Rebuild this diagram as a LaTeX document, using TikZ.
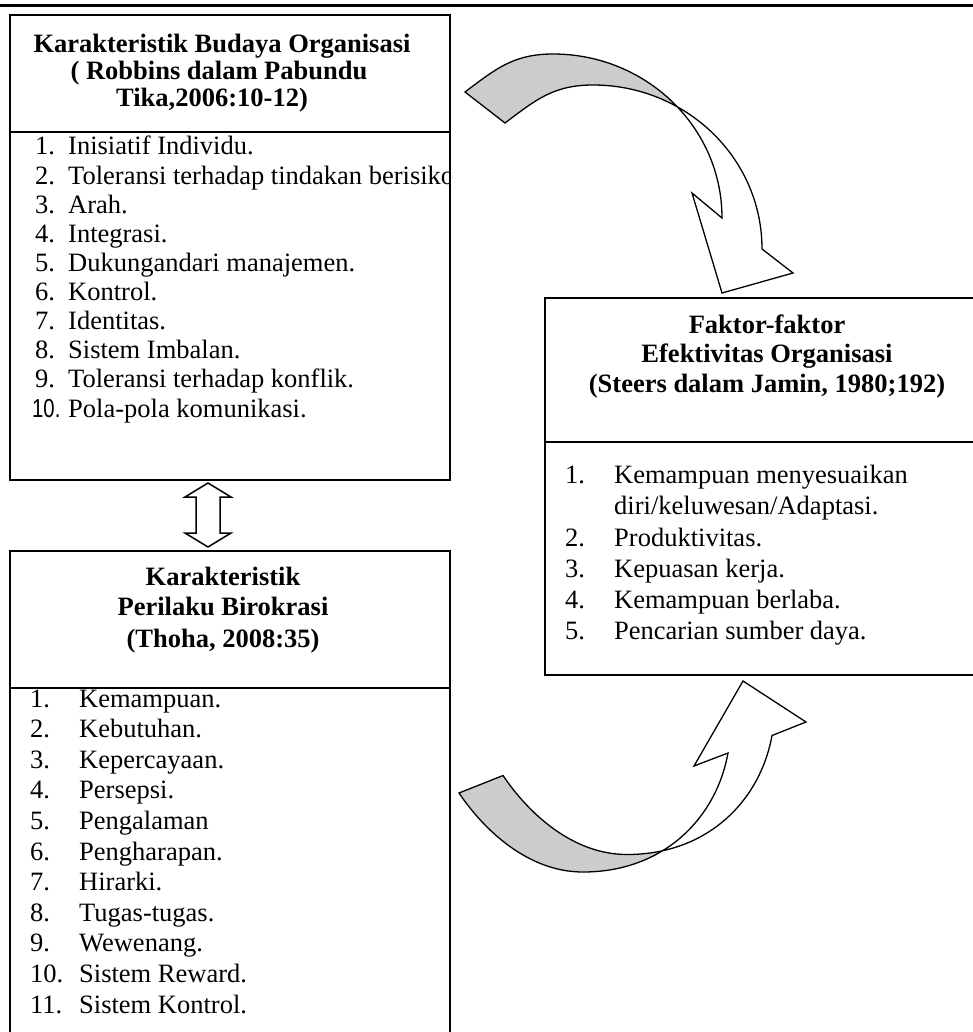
\documentclass[tikz,border=0pt]{standalone}
\usepackage{fontspec}
\setmainfont{Liberation Serif}
\newfontfamily\numfont{Liberation Sans}
\usetikzlibrary{intersections}

\newcommand\txtsize{\fontsize{26.5}{29}\selectfont}

\begin{document}
\begin{tikzpicture}[x = 1pt, y = -1pt,
	frame/.style = {line width = 1.5pt},
	title/.style = {anchor = base, inner sep = 0pt, font = \txtsize\bfseries},
	item/.style = {anchor = base west, inner sep = 0pt, font = \txtsize},
	band/.style = {line width = 1.3pt, line join = miter}]

	% Definitions
	
	\def\W{973}		% Picture width
	\def\H{1032}	% Picture height
	
	\clip (0, 0) rectangle (\W, \H);
	\coordinate (bottom) at (0, \H);
	
	% Rule at the top
	
	\draw [line width = 3pt] (0, 6) -- (\W, 6);
	
	% Budaya Organisasi
	
	\draw [frame] (10, 15) rectangle (450, 480);
	\draw [frame] (10, 132) -- (450, 132);
	
	\node [title] (budaya1) at (222, 53) {Karakteristik Budaya Organisasi};
	\node [title] (budaya2) at (219, 80) {( Robbins dalam Pabundu};
	\node [title] (budaya3) at (212, 107) {Tika,2006:10-12)};
	
	\begin{scope}
		\clip (10, 132) rectangle (450, 480);
		\foreach \txt [count = \n] in {Inisiatif Individu., Toleransi terhadap tindakan berisiko, Arah., Integrasi., Dukungandari manajemen., Kontrol., Identitas., Sistem Imbalan., Toleransi terhadap konflik.}
		{
			\node [item] (budayaNo\n) at (35, {155 + 29.1 * (\n - 1)}) {\n.};
			\node [item] (budayaItem\n) at (68, {155 + 29.1 * (\n - 1)}) {\txt};
		}
		\node [item, font = \fontsize{26}{29}\selectfont\numfont] (budayaNo10) at (32, 417) {\scalebox{0.78}[1]{10.}};
		\node [item] (budayaItem10) at (68, 417) {Pola-pola komunikasi.};
	\end{scope}
	
	% Perilaku Birokrasi
	
	\draw [frame] (10, \H + 10) -- (10, 551) -- (450, 551) -- (450, \H + 10);
	\draw [frame] (10, 688) -- (450, 688);
	
	\node [title] (birokrasi1) at (223, 585) {Karakteristik};
	\node [title] (birokrasi2) at (223, 615) {Perilaku Birokrasi};
	\node [title] (birokrasi3) at (223, 647) {(Thoha, 2008:35)};
	
	\foreach \txt [count = \n] in {Kemampuan., Kebutuhan., Kepercayaan., Persepsi., Pengalaman, Pengharapan., Hirarki., Tugas-tugas., Wewenang., Sistem Reward., Sistem Kontrol.}
	{
		\node [item] (birokrasiNo\n) at (30, {707 + 30.6 * (\n - 1)}) {\n.};
		\node [item] (birokrasiItem\n) at (79, {707 + 30.6 * (\n - 1)}) {\txt};
	}
	
	% Efektivitas Organisasi
	
	\draw [frame] (\W + 10, 298) -- (545, 298) -- (545, 675) -- (\W + 10, 675);
	\draw [frame] (545, 442) -- (\W + 10, 442);
	
	\node [title] (efektif1) at (767, 333) {Faktor-faktor};
	\node [title] (efektif2) at (767, 362) {Efektivitas Organisasi};
	\node [title] (efektif3) at (767, 392) {(Steers dalam Jamin, 1980;192)};
	
	\node [item] (efektifNo1) at (565, 483) {1.};
	\node [item] (efektifItem1) at (614, 483) {Kemampuan menyesuaikan};
	\node [item] (efektifItem1b) at (614, 514) {diri/keluwesan/Adaptasi.};
	\foreach \txt [count = \n from 2] in {Produktivitas., Kepuasan kerja., Kemampuan berlaba., Pencarian sumber daya.}
	{
		\node [item] (efektifNo\n) at (565, {546 + 31 * (\n - 2)}) {\n.};
		\node [item] (efektifItem\n) at (614, {546 + 31 * (\n - 2)}) {\txt};
	}
	
	% Double arrow between the two left boxes
	
	\draw [frame] (208, 483) -- (231, 497) -- (220, 497) -- (220, 533) -- (231, 533) -- (208, 547)
		-- (185, 533) -- (196, 533) -- (196, 497) -- (185, 497) -- cycle;
	
	% Curved arrow, top
	
	\def\topL{(465, 92) .. controls (495, 69.5) and (513, 54) .. (553, 54) .. controls (646, 54) and (722, 127) .. (722, 218)}
	\path [name path = topL] \topL;
	\path [name path = topR, shift = {(40, 31)}] \topL;
	\path [name intersections = {of = topL and topR, by = topX}];
	
	\def\toparrow{\topL -- (692, 193) -- (722, 293) -- (793, 273) -- (762, 249)
		.. controls (762, 158) and (686, 85) .. (593, 85) .. controls (553, 85) and (535, 100.5) .. (505, 123) -- cycle}
	
	\begin{scope}
		\clip (0, 0) rectangle (topX |- bottom);
		\fill [gray!40] \toparrow;
	\end{scope}
	\draw [band] \toparrow;
	
	% Curved arrow, bottom
	
	\def\botL{(459, 793) .. controls (484, 830) and (528, 872) .. (583, 872) .. controls (663, 872) and (716, 819) .. (728, 753)}
	\path [name path = botL] \botL;
	\path [name path = botR, shift = {(44, -17.5)}] \botL;
	\path [name intersections = {of = botL and botR, by = botX}];
	
	\def\botarrow{\botL -- (694, 766) -- (743, 681) -- (806, 722) -- (772, 735.5)
		.. controls (760, 801.5) and (707, 854.5) .. (627, 854.5) .. controls (572, 854.5) and (528, 812.5) .. (503, 775.5) -- cycle}
	
	\begin{scope}
		\clip (0, 0) rectangle (botX |- bottom);
		\fill [gray!40] \botarrow;
	\end{scope}
	\draw [band] \botarrow;

\end{tikzpicture}
\end{document}
